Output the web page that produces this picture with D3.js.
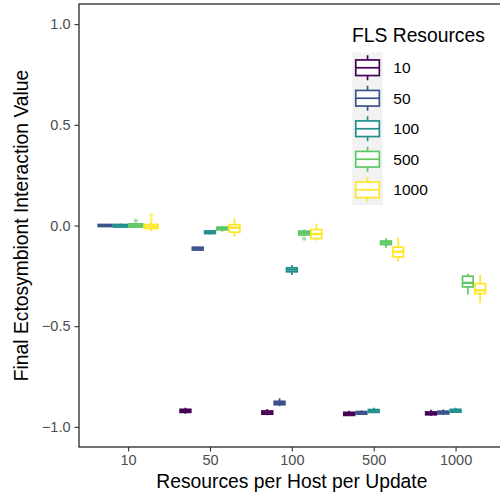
<!DOCTYPE html>
<html>
<head>
<meta charset="utf-8">
<script src="https://cdn.jsdelivr.net/npm/d3@7"></script>
<style>
  html, body { margin: 0; padding: 0; background: #fff; overflow: hidden; }
  svg { display: block; font-family: "Liberation Sans", Arial, Helvetica, sans-serif; }
</style>
</head>
<body>
<svg id="chart" width="500" height="495"></svg>
<script>
// Resources per host per update (x categories)
const resources = ["10", "50", "100", "500", "1000"];
// FLS resource levels (dodged series)
const flsLevels = ["10", "50", "100", "500", "1000"];
const flsColors = ["#440154", "#3B528B", "#21908C", "#5DC863", "#FDE725"];

// Box statistics per FLS level, one entry per resources category (null = no data)
const medians = {
  "10":   [null,  -0.920, -0.929, -0.935, -0.933],
  "50":   [0.000, -0.115, -0.882, -0.930, -0.928],
  "100":  [0.000, -0.033, -0.219, -0.920, -0.920],
  "500":  [0.000, -0.015, -0.036, -0.085, -0.285],
  "1000": [-0.005, -0.011, -0.042, -0.130, -0.322]
};
const q1s = {
  "10":   [null,  -0.928, -0.937, -0.943, -0.940],
  "50":   [-0.005, -0.122, -0.890, -0.937, -0.936],
  "100":  [-0.008, -0.040, -0.230, -0.928, -0.927],
  "500":  [-0.008, -0.022, -0.047, -0.095, -0.305],
  "1000": [-0.015, -0.033, -0.065, -0.156, -0.338]
};
const q3s = {
  "10":   [null,  -0.913, -0.921, -0.928, -0.926],
  "50":   [0.005, -0.108, -0.873, -0.924, -0.922],
  "100":  [0.005, -0.027, -0.210, -0.914, -0.913],
  "500":  [0.008, -0.008, -0.028, -0.077, -0.252],
  "1000": [0.005, 0.004, -0.020, -0.108, -0.289]
};
const whiskerLow = {
  "10":   [null,  -0.935, -0.942, -0.946, -0.945],
  "50":   [-0.008, -0.125, -0.897, -0.940, -0.940],
  "100":  [-0.012, -0.045, -0.246, -0.932, -0.930],
  "500":  [-0.013, -0.030, -0.052, -0.110, -0.343],
  "1000": [-0.028, -0.055, -0.075, -0.178, -0.385]
};
const whiskerHigh = {
  "10":   [null,  -0.905, -0.912, -0.920, -0.915],
  "50":   [0.008, -0.105, -0.858, -0.918, -0.913],
  "100":  [0.010, -0.022, -0.196, -0.905, -0.905],
  "500":  [0.012, -0.002, -0.020, -0.063, -0.239],
  "1000": [0.020, 0.035, 0.010, -0.061, -0.244]
};
const outliers = {
  "10":   [[], [], [], [], []],
  "50":   [[], [], [], [], []],
  "100":  [[], [], [], [], []],
  "500":  [[0.023], [], [-0.066], [], []],
  "1000": [[0.030, 0.051], [], [], [], []]
};
const yTicks = [-1.0, -0.5, 0.0, 0.5, 1.0];

const svg = d3.select("#chart");
// The plotting panel runs slightly past the right edge of the canvas
const panel = { left: 79, right: 504.7, top: 4, bottom: 447 };

// Discrete x scale with ggplot-style 0.6 expansion on each side
const step = (panel.right - panel.left) / (resources.length - 1 + 1.2);
const x = d3.scalePoint()
  .domain(resources)
  .range([panel.left + 0.6 * step, panel.right - 0.6 * step]);

const y = d3.scaleLinear().domain([-1.1, 1.1]).range([panel.bottom, panel.top]);

const color = d3.scaleOrdinal().domain(flsLevels).range(flsColors);

// Build box records
const boxes = [];
resources.forEach((r, ri) => {
  const present = flsLevels.filter(f => medians[f][ri] !== null);
  present.forEach((f, k) => {
    boxes.push({
      res: r, fls: f, idx: k, n: present.length,
      med: medians[f][ri], q1: q1s[f][ri], q3: q3s[f][ri],
      lo: whiskerLow[f][ri], hi: whiskerHigh[f][ri],
      out: outliers[f][ri]
    });
  });
});

const groupWidth = 0.75 * step;

function boxCenter(d) {
  const slot = groupWidth / d.n;
  return x(d.res) - groupWidth / 2 + slot * (d.idx + 0.5);
}
function boxWidth(d) { return groupWidth / d.n - 1.6; }

// Panel border
svg.append("rect")
  .attr("x", panel.left).attr("y", panel.top)
  .attr("width", panel.right - panel.left).attr("height", panel.bottom - panel.top)
  .attr("fill", "none").attr("stroke", "#000").attr("stroke-width", 1.1);

// Y axis
const yAxis = svg.append("g")
  .attr("transform", `translate(${panel.left},0)`)
  .call(d3.axisLeft(y).tickValues(yTicks).tickSize(4.5).tickPadding(4)
    .tickFormat(v => d3.format(".1f")(v).replace("-", "\u2212")));
yAxis.select(".domain").remove();
yAxis.selectAll(".tick line").attr("stroke", "#333").attr("stroke-width", 1.1);
yAxis.selectAll(".tick text")
  .attr("fill", "#4d4d4d").attr("font-size", "14.5px")
  .attr("font-family", "Liberation Sans, Arial, sans-serif");

// X axis
const xAxis = svg.append("g")
  .attr("transform", `translate(0,${panel.bottom})`)
  .call(d3.axisBottom(x).tickSize(4.5).tickPadding(3));
xAxis.select(".domain").remove();
xAxis.selectAll(".tick line").attr("stroke", "#333").attr("stroke-width", 1.1);
xAxis.selectAll(".tick text")
  .attr("fill", "#4d4d4d").attr("font-size", "14.5px")
  .attr("font-family", "Liberation Sans, Arial, sans-serif");

// Axis titles
svg.append("text")
  .attr("x", (panel.left + panel.right) / 2).attr("y", 488)
  .attr("text-anchor", "middle").attr("font-size", "19.3px").attr("fill", "#000")
  .text("Resources per Host per Update");
svg.append("text")
  .attr("transform", `translate(28,${(panel.top + panel.bottom) / 2}) rotate(-90)`)
  .attr("text-anchor", "middle").attr("font-size", "19.3px").attr("fill", "#000")
  .text("Final Ectosymbiont Interaction Value");

// Boxplots
const lw = 1.7;
const g = svg.append("g");
const bx = g.selectAll("g.box").data(boxes).join("g").attr("class", "box");

// whiskers
bx.append("line")
  .attr("x1", boxCenter).attr("x2", boxCenter)
  .attr("y1", d => y(d.hi)).attr("y2", d => y(d.q3))
  .attr("stroke", d => color(d.fls)).attr("stroke-width", lw);
bx.append("line")
  .attr("x1", boxCenter).attr("x2", boxCenter)
  .attr("y1", d => y(d.q1)).attr("y2", d => y(d.lo))
  .attr("stroke", d => color(d.fls)).attr("stroke-width", lw);
// box body
bx.append("rect")
  .attr("x", d => boxCenter(d) - boxWidth(d) / 2)
  .attr("width", boxWidth)
  .attr("y", d => y(d.q3))
  .attr("height", d => Math.max(0.5, y(d.q1) - y(d.q3)))
  .attr("fill", "#fff")
  .attr("stroke", d => color(d.fls)).attr("stroke-width", lw);
// median
bx.append("line")
  .attr("x1", d => boxCenter(d) - boxWidth(d) / 2)
  .attr("x2", d => boxCenter(d) + boxWidth(d) / 2)
  .attr("y1", d => y(d.med)).attr("y2", d => y(d.med))
  .attr("stroke", d => color(d.fls)).attr("stroke-width", lw * 1.4);
// outliers
bx.selectAll("circle").data(d => d.out.map(v => ({ v, d }))).join("circle")
  .attr("cx", o => boxCenter(o.d)).attr("cy", o => y(o.v))
  .attr("r", 2).attr("fill", o => color(o.d.fls)).attr("opacity", 0.6);

// Legend
const legend = svg.append("g");
legend.append("text")
  .attr("x", 352).attr("y", 42)
  .attr("font-size", "19.3px").attr("fill", "#000")
  .text("FLS Resources");
const keySize = 30.5, keyX = 352.3, keyY0 = 52.5;
legend.append("rect")
  .attr("x", keyX).attr("y", keyY0)
  .attr("width", keySize).attr("height", keySize * flsLevels.length)
  .attr("fill", "#f2f2f2");
const keys = legend.selectAll("g.key").data(flsLevels).join("g")
  .attr("class", "key")
  .attr("transform", (f, i) => `translate(${keyX + keySize / 2},${keyY0 + keySize * (i + 0.5)})`);
keys.append("line")
  .attr("x1", 0).attr("x2", 0).attr("y1", -12.5).attr("y2", 12.5)
  .attr("stroke", f => color(f)).attr("stroke-width", lw);
keys.append("rect")
  .attr("x", -11.8).attr("y", -7.8).attr("width", 23.6).attr("height", 15.6)
  .attr("fill", "#fff").attr("stroke", f => color(f)).attr("stroke-width", lw);
keys.append("line")
  .attr("x1", -11.8).attr("x2", 11.8).attr("y1", 0).attr("y2", 0)
  .attr("stroke", f => color(f)).attr("stroke-width", lw);
keys.append("text")
  .attr("x", 393.3 - (keyX + keySize / 2)).attr("y", 5.5)
  .attr("font-size", "15.5px").attr("fill", "#000")
  .text(f => f);
</script>
</body>
</html>
